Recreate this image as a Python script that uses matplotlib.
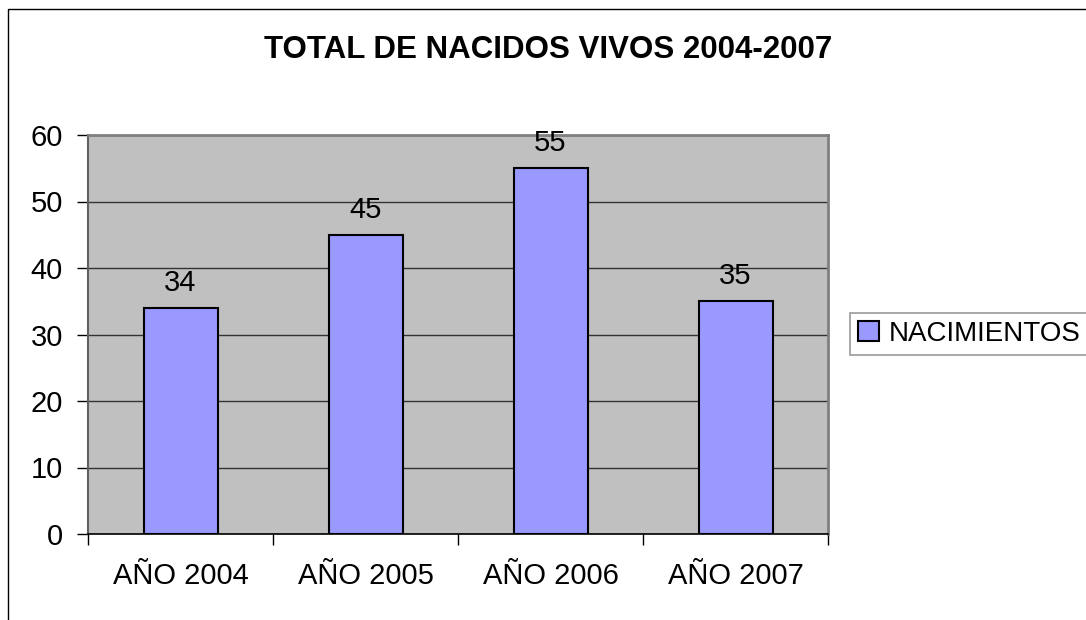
import matplotlib
matplotlib.use("Agg")
import matplotlib.pyplot as plt
from matplotlib.patches import Rectangle

categories = ["AÑO 2004", "AÑO 2005", "AÑO 2006", "AÑO 2007"]
values = [34, 45, 55, 35]
series_name = "NACIMIENTOS"
title = "TOTAL DE NACIDOS VIVOS 2004-2007"
yticks = [0, 10, 20, 30, 40, 50, 60]

plt.rcParams['font.family'] = ['Liberation Sans', 'DejaVu Sans']

W, H = 1086, 620
fig = plt.figure(figsize=(W / 100, H / 100), dpi=100)
fig.patch.set_facecolor("white")

# outer chart frame
fig.patches.append(Rectangle((8 / W, -0.05), 1.2, (H - 9) / H + 0.05,
                             transform=fig.transFigure, fill=False,
                             edgecolor="black", linewidth=1.0))

ax = fig.add_axes([88 / W, (H - 534) / H, 740 / W, 399 / H])
ax.set_facecolor("#C0C0C0")

x = list(range(len(categories)))
bars = ax.bar(x, values, width=0.4, color="#9999FF", edgecolor="black",
              linewidth=1.5, label=series_name, zorder=3)

ax.set_xlim(-0.5, len(categories) - 0.5)
ax.set_ylim(0, 60)
ax.set_yticks(yticks)
ax.set_yticklabels([str(t) for t in yticks], fontsize=21)
ax.yaxis.grid(True, color="#333333", linewidth=1.0, zorder=1)
ax.set_axisbelow(True)

# category ticks at boundaries, labels at centers
ax.set_xticks([i - 0.5 for i in range(len(categories) + 1)])
ax.set_xticklabels([])
ax.set_xticks(x, minor=True)
ax.set_xticklabels(categories, minor=True, fontsize=21)
ax.tick_params(axis="x", which="minor", length=0, pad=20)
ax.tick_params(axis="x", which="major", direction="out", length=8, width=1, color="black")
ax.tick_params(axis="y", direction="out", length=8, width=1, color="black", pad=10)

for s in ["top", "right"]:
    ax.spines[s].set_color("#808080")
    ax.spines[s].set_linewidth(2)
ax.spines["left"].set_color("#606060")
ax.spines["left"].set_linewidth(1.5)
ax.spines["bottom"].set_color("black")
ax.spines["bottom"].set_linewidth(1.2)

for xi, v in zip(x, values):
    ax.annotate(str(v), (xi, v), xytext=(0, 8), textcoords="offset points",
                ha="center", va="bottom", fontsize=21)

fig.text(548 / W, 1 - 50 / H, title, ha="center", va="center",
         fontsize=22.5, fontweight="bold")

leg = fig.legend(handles=[bars], labels=[series_name], loc="center left",
                 bbox_to_anchor=(850 / W, 1 - 334 / H), fontsize=20,
                 frameon=True, fancybox=False, edgecolor="#808080",
                 handlelength=0.75, handleheight=0.75, handletextpad=0.35,
                 borderpad=0.3, borderaxespad=0)
leg.get_frame().set_linewidth(1.2)

fig.savefig("out.png", dpi=100, facecolor="white")
